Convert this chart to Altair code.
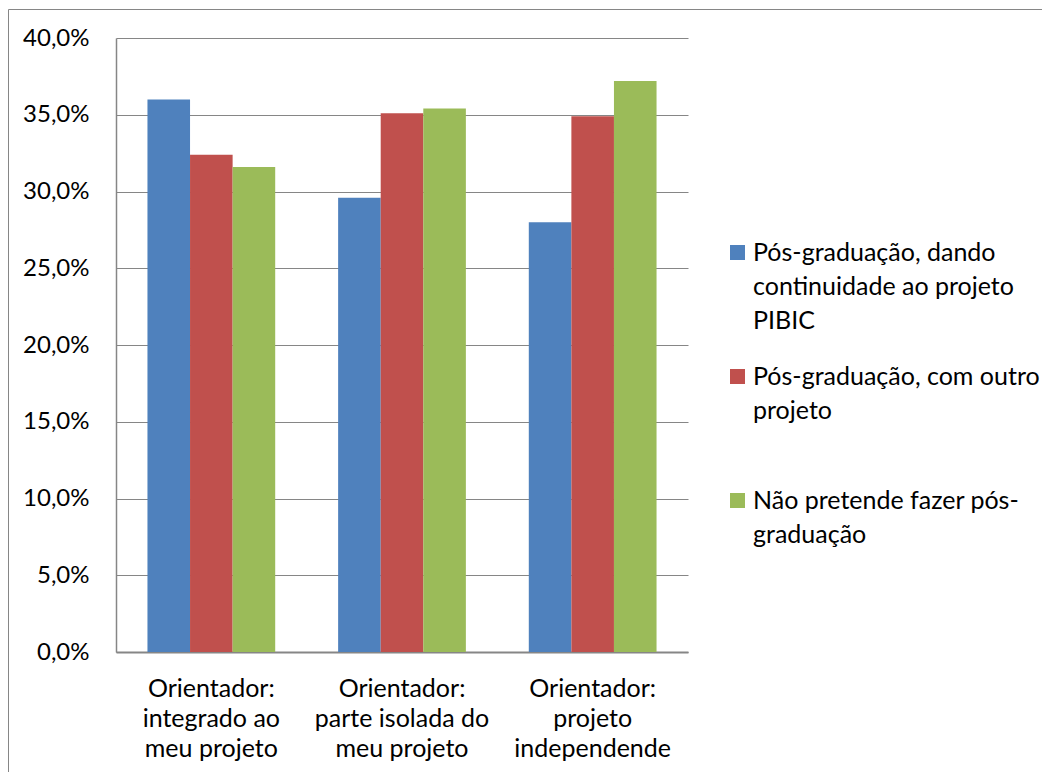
import altair as alt
import pandas as pd

# Categories (x axis), "|" marks a line break in the label
categories = [
    "Orientador:|integrado ao|meu projeto",
    "Orientador:|parte isolada do|meu projeto",
    "Orientador:|projeto|independende",
]
# Series (legend), "|" marks a line break in the legend label
series = [
    "Pós-graduação, dando|continuidade ao projeto|PIBIC",
    "Pós-graduação, com outro|projeto",
    "Não pretende fazer pós-|graduação",
]
colors = ["#4F81BD", "#C0504D", "#9BBB59"]

# Values in percent, one list per series (in category order)
continuidade = [36.0, 29.6, 28.0]
outro_projeto = [32.4, 35.1, 34.9]
nao_pretende = [31.6, 35.4, 37.2]

y_ticks = [0, 5, 10, 15, 20, 25, 30, 35, 40]

rows = []
for s, vals in zip(series, [continuidade, outro_projeto, nao_pretende]):
    for c, v in zip(categories, vals):
        rows.append({"cat": c, "serie": s, "value": v})
df = pd.DataFrame(rows)

FONT = "Lato"
GRAY = "#868686"
W, H = 572, 614
PAD = {"left": 108, "top": 30, "right": 1034 - 108 - W, "bottom": 764 - 30 - H}

frame = alt.Chart(alt.Data(values=[{"a": 1}])).mark_rect(
    fillOpacity=0, stroke=GRAY, strokeWidth=1
).encode(
    x=alt.value(-PAD["left"] + 0.5),
    x2=alt.value(W + PAD["right"] + 20),
    y=alt.value(-PAD["top"] + 1.5),
    y2=alt.value(H + PAD["bottom"] + 20),
)

bars = alt.Chart(df).mark_bar().encode(
    x=alt.X(
        "cat:N",
        scale=alt.Scale(domain=categories, paddingInner=0.33, paddingOuter=0.165),
        axis=alt.Axis(
            title=None,
            labelAngle=0,
            labelExpr="split(datum.label, '|')",
            labelFont=FONT,
            labelFontSize=25,
            labelLineHeight=30,
            labelColor="black",
            labelPadding=24,
            ticks=False,
            domainColor=GRAY,
            domainWidth=2,
            grid=False,
        ),
    ),
    xOffset=alt.XOffset(
        "serie:N", scale=alt.Scale(domain=series, paddingInner=0, paddingOuter=0)
    ),
    y=alt.Y(
        "value:Q",
        scale=alt.Scale(domain=[0, 40]),
        axis=alt.Axis(
            title=None,
            values=y_ticks,
            labelExpr="replace(format(datum.value, '.1f'), '.', ',') + '%'",
            labelFont=FONT,
            labelFontSize=24,
            labelColor="black",
            labelPadding=27,
            ticks=False,
            domainColor=GRAY,
            domainWidth=1.5,
            gridColor=GRAY,
            gridWidth=1,
        ),
    ),
    color=alt.Color(
        "serie:N",
        scale=alt.Scale(domain=series, range=colors),
        legend=alt.Legend(
            title=None,
            orient="none",
            legendX=609,
            legendY=202,
            symbolType="square",
            symbolSize=225,
            symbolStrokeWidth=0,
            # pad every entry to three lines so the entries are evenly spaced
            labelExpr="split(length(split(datum.label, '|')) < 3 ? datum.label + '| ' : datum.label, '|')",
            labelFont=FONT,
            labelFontSize=25,
            labelLimit=400,
            labelOffset=3,
            labelColor="black",
            rowPadding=30,
        ),
    ),
)

chart = alt.layer(frame, bars).properties(
    width=W,
    height=H,
    autosize=alt.AutoSizeParams(type="none"),
    padding=PAD,
).configure(
    style={"guide-label": {"lineHeight": 34}}
).configure_view(stroke=None)

chart.save("out.html", embed_options={"renderer": "svg", "actions": False})
